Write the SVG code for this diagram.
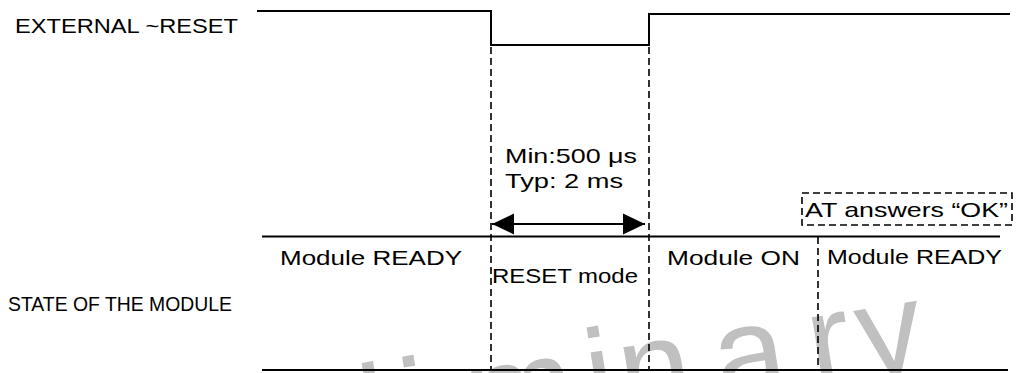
<svg xmlns="http://www.w3.org/2000/svg" width="1016" height="373" viewBox="0 0 1016 373">
<style>
.t{font-family:"Liberation Sans",Arial,Helvetica,sans-serif;font-size:21px;fill:#000}
.sig{stroke:#000;stroke-width:2;fill:none}
.ln{stroke:#000;stroke-width:1.8;fill:none}
.dash{stroke:#000;stroke-width:1.6;stroke-dasharray:7 4;fill:none}
.wm{font-family:"Liberation Sans",Arial,Helvetica,sans-serif;font-size:130px;fill:#c0c0c0}
</style>
<defs>
<marker id="ah" markerUnits="userSpaceOnUse" markerWidth="22" markerHeight="22" viewBox="0 0 21 20" refX="21" refY="10" orient="auto-start-reverse">
<path d="M0,0 L21,10 L0,20 z" fill="#000"/>
</marker>
</defs>
<rect width="1016" height="373" fill="#fff"/>
<g id="watermark" transform="translate(660,411) rotate(-9)">
<text class="wm" x="-505 -415 -370 -296 -255 -189 -68 -35 61 156 206" y="0">Preliminary</text>
</g>
<g id="signal-external-reset">
<text class="t" x="15" y="33" textLength="223" lengthAdjust="spacingAndGlyphs">EXTERNAL ~RESET</text>
<polyline class="sig" points="257,11 491,11 491,45 649,45 649,14 1010,14"/>
</g>
<g id="signal-state">
<text class="t" x="8" y="311" textLength="224" lengthAdjust="spacingAndGlyphs">STATE OF THE MODULE</text>
<line class="ln" x1="262" y1="236.5" x2="1000" y2="236.5"/>
<line class="ln" x1="262" y1="370" x2="1008" y2="370"/>
</g>
<g id="state-module-ready-1">
<text class="t" x="280" y="265" textLength="182" lengthAdjust="spacingAndGlyphs">Module READY</text>
</g>
<g id="state-reset-mode">
<text class="t" x="492" y="283" textLength="146" lengthAdjust="spacingAndGlyphs">RESET mode</text>
</g>
<g id="state-module-on">
<text class="t" x="667" y="265" textLength="133" lengthAdjust="spacingAndGlyphs">Module ON</text>
</g>
<g id="state-module-ready-2">
<text class="t" x="827" y="264" textLength="175" lengthAdjust="spacingAndGlyphs">Module READY</text>
</g>
<g id="at-answers-ok">
<rect class="dash" x="802" y="193" width="210" height="32"/>
<text class="t" x="805" y="217" textLength="203" lengthAdjust="spacingAndGlyphs">AT answers “OK”</text>
</g>
<g id="timing-label">
<text class="t" x="505" y="163" textLength="132" lengthAdjust="spacingAndGlyphs">Min:500 μs</text>
<text class="t" x="505" y="188" textLength="118" lengthAdjust="spacingAndGlyphs">Typ: 2 ms</text>
</g>
<g id="connectors">
<line class="dash" x1="491" y1="47" x2="491" y2="370"/>
<line class="dash" x1="649" y1="47" x2="649" y2="370"/>
<line class="dash" x1="818" y1="237" x2="818" y2="370"/>
<line class="ln" x1="492" y1="224" x2="645" y2="224" stroke-width="2" marker-start="url(#ah)" marker-end="url(#ah)"/>
</g>
</svg>
